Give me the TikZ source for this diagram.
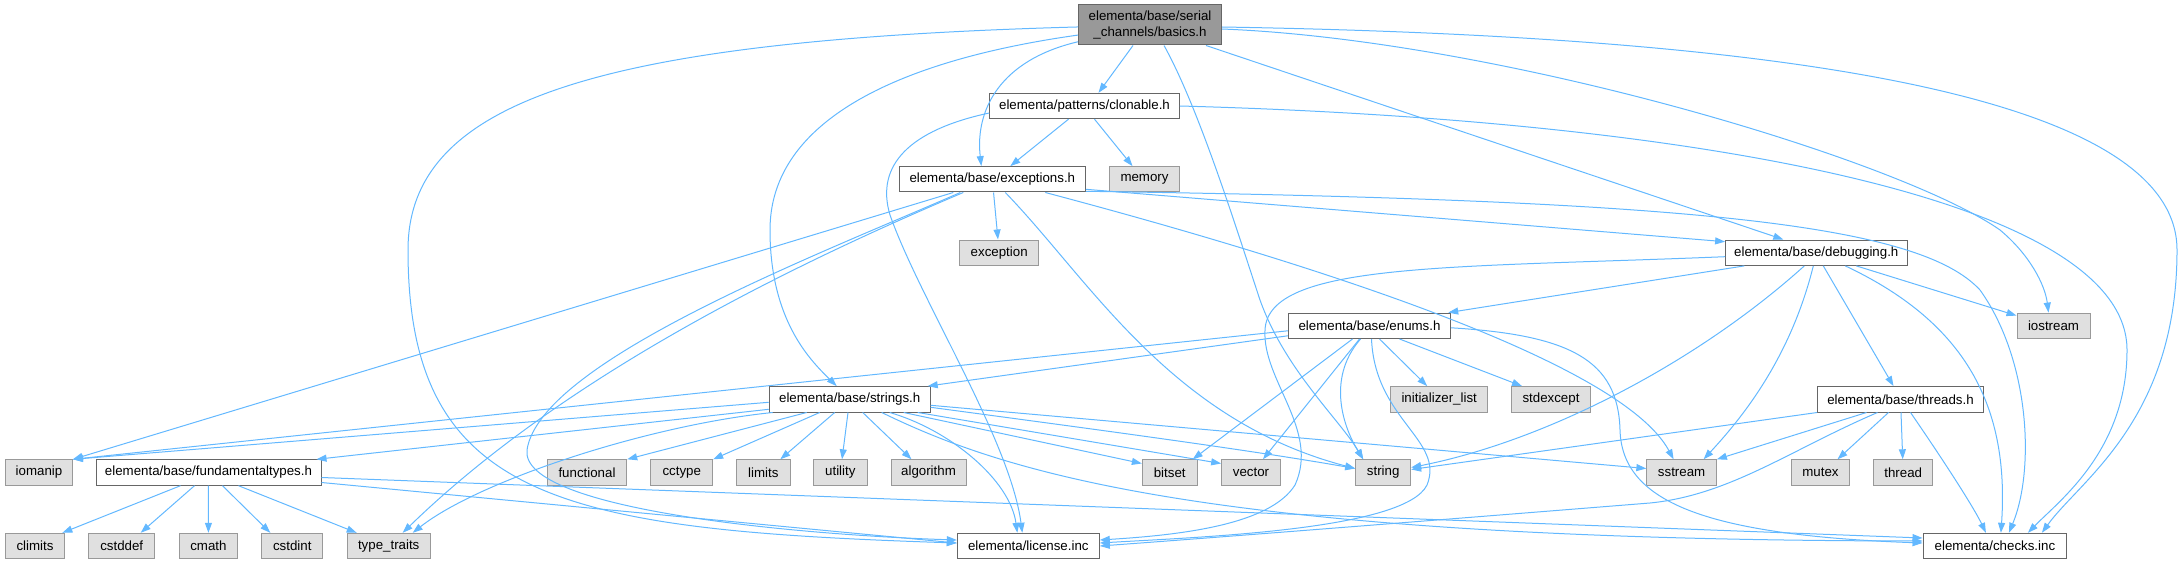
\documentclass[tikz,border=0pt]{standalone}
\usepackage{fontspec}
\setmainfont{Liberation Sans}
\usetikzlibrary{arrows.meta}
\definecolor{edgeblue}{HTML}{63B8FF}
\definecolor{bordgray}{HTML}{666666}
\definecolor{sysborder}{HTML}{999999}
\definecolor{sysfill}{HTML}{E0E0E0}
\definecolor{rootfill}{HTML}{999999}
\newcommand{\dfont}{\fontsize{13.3}{15.5}\selectfont}
\tikzset{
  hdr/.style={draw=bordgray, fill=white, line width=1pt, inner sep=0pt, font=\dfont, minimum height=25.4pt},
  sys/.style={draw=sysborder, fill=sysfill, line width=1pt, inner sep=0pt, font=\dfont, minimum height=25.4pt},
  root/.style={draw=bordgray, fill=rootfill, line width=1pt, inner sep=0pt, font=\dfont, align=center, minimum height=40pt},
  edge/.style={draw=edgeblue, line width=1pt, -{Triangle[length=10pt,width=7pt]}}
}
\begin{document}
\begin{tikzpicture}[x=1pt,y=-1pt]
\useasboundingbox (0,0) rectangle (2183,564);
% rank 0-4
\node[root, minimum width=143] (basics) at (1150,25) {elementa/base/serial\\\_channels/basics.h};
\node[hdr, minimum width=189.6] (clonable) at (1084.5,106) {elementa/patterns/clonable.h};
\node[hdr, minimum width=186] (exceptions) at (992.3,179.3) {elementa/base/exceptions.h};
\node[sys, minimum width=69.6] (memory) at (1144.5,179.3) {memory};
\node[sys, minimum width=79] (exception) at (999.2,252.7) {exception};
\node[hdr, minimum width=181.4] (debugging) at (1816.3,252.7) {elementa/base/debugging.h};
\node[hdr, minimum width=162.4] (enums) at (1369.5,325.8) {elementa/base/enums.h};
\node[sys, minimum width=73] (iostream) at (2053.5,325.8) {iostream};
% rank 5
\node[hdr, minimum width=161] (strings) at (849.7,399.3) {elementa/base/strings.h};
\node[sys, minimum width=97] (initlist) at (1439.2,399.3) {initializer\_list};
\node[sys, minimum width=78.6] (stdexcept) at (1551,399.3) {stdexcept};
\node[hdr, minimum width=165.8] (threads) at (1900.5,399.3) {elementa/base/threads.h};
% rank 6
\node[sys, minimum width=66.8] (iomanip) at (39,472.5) {iomanip};
\node[hdr, minimum width=225] (fund) at (208.5,472.5) {elementa/base/fundamentaltypes.h};
\node[sys, minimum width=79.4] (functional) at (587,472.5) {functional};
\node[sys, minimum width=61.7] (cctype) at (681.8,472.5) {cctype};
\node[sys, minimum width=54] (limits) at (763.3,472.5) {limits};
\node[sys, minimum width=54] (utility) at (840.3,472.5) {utility};
\node[sys, minimum width=75] (algorithm) at (928.5,472.5) {algorithm};
\node[sys, minimum width=54.7] (bitset) at (1169.7,472.5) {bitset};
\node[sys, minimum width=58.7] (vector) at (1251,472.5) {vector};
\node[sys, minimum width=55] (string) at (1383.2,472.5) {string};
\node[sys, minimum width=69.5] (sstream) at (1681.6,472.5) {sstream};
\node[sys, minimum width=58.8] (mutex) at (1820.5,472.5) {mutex};
\node[sys, minimum width=59] (thread) at (1903.2,472.5) {thread};
% rank 7
\node[sys, minimum width=59.7] (climits) at (35,546) {climits};
\node[sys, minimum width=65.8] (cstddef) at (121.7,546) {cstddef};
\node[sys, minimum width=58.8] (cmath) at (208.4,546) {cmath};
\node[sys, minimum width=61.3] (cstdint) at (292.3,546) {cstdint};
\node[sys, minimum width=82.7] (typetraits) at (388.7,546) {type\_traits};
\node[hdr, minimum width=142] (license) at (1028.3,546) {elementa/license.inc};
\node[hdr, minimum width=143.7] (checks) at (1994.9,546) {elementa/checks.inc};

% basics
\draw[edge] (basics) .. controls (600,40) and (408,100) .. (408,250) .. controls (408,500) and (560,530) .. ([yshift=3]license.west);
\draw[edge] (basics) .. controls (900,60) and (770,120) .. (770,230) .. controls (770,320) and (810,360) .. ([xshift=-13]strings.north);
\draw[edge] (basics) .. controls (1000,60) and (975,110) .. ([xshift=-11]exceptions.north);
\draw[edge] ([xshift=-17]basics.south) -- ([xshift=14]clonable.north);
\draw[edge] ([xshift=14]basics.south) .. controls (1200,110) and (1240,240) .. (1260,300) .. controls (1285,370) and (1340,420) .. ([xshift=-20]string.north);
\draw[edge] ([xshift=56]basics.south) -- ([xshift=-33]debugging.north);
\draw[edge] ([yshift=-4]basics.east) .. controls (1500,40) and (1900,160) .. (2000,230) .. controls (2030,255) and (2045,285) .. ([xshift=-5]iostream.north);
\draw[edge] ([yshift=-2]basics.east) .. controls (1700,35) and (2177,80) .. (2177,250) .. controls (2177,420) and (2080,480) .. ([xshift=47]checks.north);
% clonable
\draw[edge] ([xshift=-16]clonable.south) -- ([xshift=18]exceptions.north);
\draw[edge] ([xshift=10]clonable.south) -- ([xshift=-12]memory.north);
\draw[edge] ([yshift=-7]clonable.west) .. controls (910,130) and (875,165) .. (890,215) .. controls (920,300) and (1010,440) .. ([xshift=-6]license.north);
\draw[edge] (clonable.east) .. controls (1700,120) and (2127,200) .. (2127,350) .. controls (2127,450) and (2060,500) .. ([xshift=33]checks.north);
% exceptions
\draw[edge] ([xshift=-39]exceptions.south) -- (iomanip.north east);
\draw[edge] ([xshift=-29]exceptions.south) .. controls (780,270) and (560,380) .. ([xshift=14]typetraits.north);
\draw[edge] ([xshift=-32]exceptions.south) .. controls (830,250) and (540,360) .. (527,450) .. controls (520,510) and (800,535) .. ([yshift=6]license.west);
\draw[edge] (exceptions) -- (exception);
\draw[edge] ([xshift=13]exceptions.south) .. controls (1090,280) and (1170,420) .. ([yshift=4]string.west);
\draw[edge] ([xshift=53]exceptions.south) .. controls (1300,260) and (1620,360) .. ([xshift=-8]sstream.north);
\draw[edge] ([yshift=-10]exceptions.east) -- ([yshift=11]debugging.west);
\draw[edge] ([yshift=-12]exceptions.east) .. controls (1700,200) and (1920,225) .. (1980,290) .. controls (2030,360) and (2035,470) .. ([xshift=14]checks.north);
% strings
\draw[edge] ([yshift=-3]strings.west) -- (iomanip.north east);
\draw[edge] ([yshift=-10]strings.west) -- ([xshift=-5]fund.north east);
\draw[edge] ([xshift=4]strings.south west) .. controls (650,425) and (480,480) .. ([xshift=24]typetraits.north);
\draw[edge] ([xshift=-43]strings.south) -- (functional.north east);
\draw[edge] ([xshift=-30]strings.south) -- (cctype.north east);
\draw[edge] ([xshift=-15]strings.south) -- ([xshift=17]limits.north);
\draw[edge] (strings) -- (utility);
\draw[edge] ([xshift=13]strings.south) -- ([xshift=-17]algorithm.north);
\draw[edge] ([xshift=54]strings.south) -- ([yshift=9]bitset.west);
\draw[edge] ([xshift=68]strings.south) -- ([yshift=9]vector.west);
\draw[edge] ([yshift=-8]strings.east) .. controls (1100,430) and (1250,450) .. ([yshift=4]string.west);
\draw[edge] ([yshift=-6]strings.east) -- ([yshift=4]sstream.west);
\draw[edge] ([xshift=40]strings.south) .. controls (950,430) and (1010,480) .. ([xshift=-11]license.north);
\draw[edge] ([xshift=32]strings.south) .. controls (1000,470) and (1200,540) .. ([yshift=5]checks.west);
% fundamentaltypes
\draw[edge] ([xshift=-28]fund.south) -- ([xshift=-3]climits.north east);
\draw[edge] ([xshift=-14]fund.south) -- ([xshift=19]cstddef.north);
\draw[edge] (fund) -- (cmath);
\draw[edge] ([xshift=14]fund.south) -- ([xshift=-22]cstdint.north);
\draw[edge] ([xshift=30]fund.south) -- ([xshift=-32]typetraits.north);
\draw[edge] ([yshift=-10]fund.east) -- ([yshift=3]license.west);
\draw[edge] ([yshift=-5]fund.east) -- ([yshift=8]checks.west);
% enums
\draw[edge] ([yshift=-10]enums.west) -- ([xshift=-3]strings.north east);
\draw[edge] ([yshift=-5]enums.west) -- (iomanip.north east);
\draw[edge] ([xshift=-17]enums.south) -- ([xshift=23]bitset.north);
\draw[edge] ([xshift=-10]enums.south) -- ([xshift=12]vector.north);
\draw[edge] ([xshift=-9]enums.south) .. controls (1325,380) and (1345,430) .. ([xshift=-20]string.north);
\draw[edge] ([xshift=2]enums.south) .. controls (1375,420) and (1445,440) .. (1427,485) .. controls (1405,530) and (1200,537) .. ([yshift=3]license.east);
\draw[edge] ([xshift=10]enums.south) -- ([xshift=-12]initlist.north);
\draw[edge] ([xshift=30]enums.south) -- ([xshift=-29]stdexcept.north);
\draw[edge] ([yshift=-2]enums.east) .. controls (1570,335) and (1618,360) .. (1620,430) .. controls (1622,500) and (1700,535) .. ([yshift=3]checks.west);
% debugging
\draw[edge] ([xshift=-72]debugging.south) -- ([xshift=-3]enums.north east);
\draw[edge] ([yshift=-4]debugging.west) .. controls (1450,268) and (1268,262) .. (1265,330) .. controls (1262,380) and (1320,430) .. (1295,485) .. controls (1270,525) and (1180,535) .. ([yshift=6]license.east);
\draw[edge] ([xshift=-12]debugging.south) .. controls (1700,360) and (1550,440) .. ([yshift=5]string.east);
\draw[edge] ([xshift=-3]debugging.south) .. controls (1790,360) and (1740,420) .. ([xshift=22]sstream.north);
\draw[edge] ([xshift=7]debugging.south) -- ([xshift=-7]threads.north);
\draw[edge] ([xshift=29]debugging.south) .. controls (1960,320) and (2010,400) .. ([xshift=6]checks.north);
\draw[edge] ([xshift=40]debugging.south) -- ([yshift=-3]iostream.north west);
% threads
\draw[edge] (threads.south west) -- ([yshift=3]string.east);
\draw[edge] ([xshift=-34]threads.south) -- (sstream.north east);
\draw[edge] ([xshift=-23]threads.south) .. controls (1790,450) and (1730,495) .. (1650,503) .. controls (1500,515) and (1250,535) .. (license.east);
\draw[edge] ([xshift=-12]threads.south) -- ([xshift=17]mutex.north);
\draw[edge] (threads) -- (thread);
\draw[edge] ([xshift=10]threads.south) .. controls (1950,470) and (1975,510) .. ([xshift=-9]checks.north);
\end{tikzpicture}
\end{document}
